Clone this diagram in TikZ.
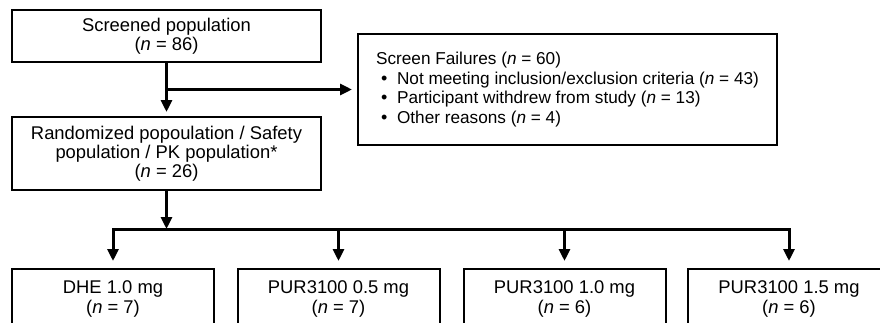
\documentclass[tikz,border=0pt]{standalone}
\usepackage{fontspec}
\setmainfont{Liberation Sans}
\usetikzlibrary{arrows.meta, positioning, calc}
\newcommand{\ncount}[1]{(\textit{n} = #1)}
\newcommand{\bul}{\makebox[10.5pt][l]{\hspace{2.5pt}\small\textbullet}}

\begin{document}
\begin{tikzpicture}[x=0.5pt, y=-0.5pt,
    box/.style={draw, line width=1pt, align=center, inner sep=2pt,
      font=\fontsize{9.2}{9.6}\selectfont},
    flow/.style={line width=1.5pt, -{Triangle[width=5.5pt,length=6pt]}}]
  \useasboundingbox (0,0) rectangle (880,322);
  \node[box, minimum width=154.5pt, minimum height=26pt] (screen) at (166.5,36)
    {Screened population\\\ncount{86}};
  \node[box, minimum width=154.5pt, minimum height=36.5pt] (random) at (166.5,153.5)
    {Randomized popoulation / Safety\\population / PK population*\\\ncount{26}};
  \node[box, align=left, minimum width=209.5pt, minimum height=55.5pt,
    font=\fontsize{8.6}{9.8}\selectfont] (fail) at (567.5,89.5)
    {Screen Failures \ncount{60}\\
     \bul Not meeting inclusion/exclusion criteria \ncount{43}\\
     \bul Participant withdrew from study \ncount{13}\\
     \bul Other reasons \ncount{4}};
  \coordinate (split) at (166.5,229);
  \draw[flow, shorten >=2pt] (screen) -- (random);
  \draw[flow, shorten >=2.5pt] (screen.south |- fail.west) -- (fail.west);
  \draw[flow] (random) -- (split);
  \foreach \i/\cx/\arm/\dose in {1/113/DHE/1.0, 2/338.5/PUR3100/0.5, 3/564.5/PUR3100/1.0, 4/789/PUR3100/1.5} {
    \node[box, minimum width=101pt, minimum height=30pt] (arm\i) at (\cx,299)
      {\arm\ \dose\ mg\\\ncount{\ifnum\i<3 7\else 6\fi}};
    \draw[flow, shorten >=3.5pt] (split) -| (arm\i.north);
  }
\end{tikzpicture}
\end{document}
